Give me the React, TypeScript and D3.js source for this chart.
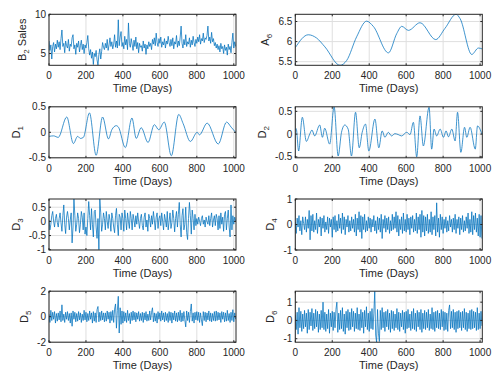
import React from 'react'
import * as d3 from 'd3'

// x axis
const xTicks = [0, 200, 400, 600, 800, 1000]
const xMax = 1012
const sampleStep = 5 // days between the noisy samples below

// B2 Sales, one value every 5 days
const b2Sales = [
  6.6, 5.4, 6.1, 4.3, 5.9, 6.4, 5.2, 6.2, 5.6, 6.7,
  5.8, 6.5, 5.5, 6.9, 8.0, 5.9, 6.3, 5.1, 6.6, 6.0,
  5.7, 6.8, 5.3, 6.2, 5.9, 7.0, 7.4, 5.6, 6.1, 4.9,
  6.3, 5.8, 6.6, 5.2, 6.0, 6.7, 5.5, 6.2, 5.0, 6.1,
  5.7, 6.4, 7.3, 5.6, 4.8, 5.5, 4.4, 5.2, 3.6, 5.0,
  4.6, 5.4, 4.2, 3.5, 4.9, 5.6, 4.3, 5.3, 6.4, 5.8,
  5.5, 6.3, 5.7, 6.8, 5.4, 6.1, 7.0, 5.9, 6.5, 5.6,
  6.2, 7.4, 5.8, 6.6, 5.7, 9.3, 6.0, 7.1, 7.8, 5.9,
  6.4, 5.6, 7.2, 6.1, 6.8, 5.5, 8.9, 6.3, 5.8, 6.9,
  6.2, 5.4, 6.7, 5.9, 7.1, 5.6, 6.4, 5.1, 6.3, 5.8,
  6.0, 5.3, 6.6, 5.7, 6.2, 4.9, 6.1, 5.6, 6.5, 5.9,
  6.3, 5.5, 6.8, 6.2, 7.0, 6.0, 7.6, 6.4, 5.9, 6.9,
  6.3, 7.1, 5.8, 6.5, 6.1, 6.9, 5.7, 6.6, 6.2, 7.2,
  6.4, 5.9, 6.8, 6.0, 7.0, 5.6, 6.5, 6.2, 7.3, 5.8,
  6.6, 6.0, 7.1, 8.5, 6.3, 5.7, 6.8, 6.1, 7.4, 5.9,
  6.5, 6.2, 7.0, 5.8, 6.7, 6.1, 7.2, 6.4, 5.9, 6.8,
  6.3, 7.1, 6.5, 7.4, 6.2, 6.9, 6.6, 7.6, 6.4, 7.0,
  6.8, 7.3, 8.5, 6.6, 7.1, 6.3, 7.7, 6.5, 6.9, 6.0,
  6.4, 5.7, 6.2, 5.5, 6.0, 5.2, 6.3, 5.6, 5.9, 5.0,
  6.1, 5.4, 5.8, 4.8, 6.2, 5.5, 5.9, 5.1, 6.4, 7.6,
  5.7, 6.5, 5.9,
]

// A6 approximation, read at turning points
const a6Days = [0, 70, 115, 160, 242, 278, 332, 386, 422, 504, 549, 576, 612, 675, 760, 810, 870, 892, 955, 991, 1010]
const a6Vals = [5.85, 6.17, 6.09, 5.87, 5.41, 5.53, 6.12, 6.51, 6.38, 5.72, 6.2, 6.38, 6.28, 6.47, 6.05, 6.33, 6.68, 6.57, 5.68, 5.84, 5.82]

// D1 detail
const d1Days = [0, 25, 50, 96, 132, 155, 170, 186, 219, 255, 290, 322, 340, 364, 376, 413, 449, 472, 499, 536, 570, 594, 624, 662, 702, 726, 765, 802, 814, 856, 916, 961, 986, 1010]
const d1Vals = [-0.08, -0.07, -0.1, 0.3, -0.22, -0.08, -0.12, -0.1, 0.38, -0.45, 0.3, -0.13, 0.05, 0.13, 0.1, -0.3, 0.28, -0.12, 0.09, -0.2, 0.15, 0.05, 0.2, -0.46, 0.35, 0.17, -0.18, 0, -0.05, 0.18, -0.23, 0.2, 0.1, 0]

// D2 detail
const d2Days = [0, 5, 18, 38, 60, 78, 90, 105, 132, 147, 159, 186, 210, 232, 250, 268, 286, 304, 326, 346, 362, 380, 398, 431, 452, 470, 485, 503, 521, 539, 557, 575, 603, 621, 639, 657, 675, 693, 724, 738, 751, 765, 784, 802, 816, 829, 847, 865, 878, 896, 916, 928, 946, 974, 986, 1010]
const d2Vals = [0.1, 0.12, -0.37, 0.37, -0.16, 0.0, 0.09, -0.04, 0.2, -0.07, 0.13, -0.22, 0.6, -0.48, 0.04, 0.2, 0.11, -0.48, 0.48, -0.3, 0.04, 0.22, -0.37, 0.33, -0.3, 0.07, -0.07, 0.04, -0.04, 0.01, -0.01, -0.04, 0.04, -0.01, 0.26, -0.5, 0.4, -0.26, 0.59, -0.33, 0.11, -0.04, 0.11, -0.07, 0.07, -0.06, 0.11, -0.15, 0.48, -0.4, 0.15, -0.07, 0.15, -0.33, 0.18, 0]

// D3..D6 detail, one value every 5 days
const d3Vals = [
  0.05, -0.3, -0.1, 0.2, 0.35, 0.0, -0.2, 0.1, 0.25, -0.05,
  -0.2, 0.1, 0.3, -0.05, -0.35, 0.2, 0.58, -0.1, -0.43, 0.15,
  0.35, 0.1, -0.3, 0.05, 0.3, -0.76, -0.2, 0.79, 0.2, -0.35,
  -0.1, 0.3, 0.1, -0.4, -0.1, 0.35, 0.15, -0.3, 0.3, -0.45,
  -0.2, -0.5, 0.1, 0.7, 0.2, -0.3, 0.45, -0.1, -0.55, 0.35,
  0.4, -0.2, -0.6, 0.1, -1.0, 0.79, 0.3, -0.35, -0.1, 0.3,
  0.1, -0.3, 0.35, 0.0, -0.25, 0.25, 0.05, -0.35, 0.3, 0.1,
  -0.2, -0.4, 0.2, 0.46, -0.1, -0.5, 0.25, 0.15, -0.3, 0.3,
  0.1, -0.35, 0.4, 0.1, -0.3, 0.3, 0.0, -0.25, 0.35, 0.1,
  -0.3, 0.25, 0.05, -0.2, 0.2, -0.1, 0.3, 0.0, -0.25, 0.1,
  0.25, -0.15, -0.3, 0.15, 0.3, -0.2, 0.05, -0.35, 0.25, 0.1,
  -0.2, 0.2, -0.1, 0.35, 0.05, -0.3, 0.15, 0.3, -0.25, 0.1,
  0.2, -0.15, 0.3, 0.0, -0.3, 0.25, 0.05, -0.2, 0.35, -0.3,
  0.0, 0.3, -0.25, -0.05, 0.4, 0.1, -0.37, 0.1, 0.35, -0.2,
  0.25, 0.67, -0.1, -0.55, 0.2, 0.45, -0.3, -0.1, 0.5, -0.4,
  -0.64, 0.1, 0.67, 0.2, -0.45, 0.4, 0.1, -0.3, 0.25, -0.15,
  0.1, -0.1, 0.15, 0.0, -0.15, 0.1, 0.2, -0.1, 0.05, -0.2,
  0.15, 0.0, -0.1, 0.2, -0.15, 0.1, 0.3, -0.2, 0.05, 0.2,
  -0.15, 0.25, 0.1, -0.3, 0.2, -0.25, 0.3, -0.1, 0.15, -0.35,
  0.25, 0.35, -0.3, 0.1, 0.4, -0.2, -0.55, 0.58, -0.3, 0.2,
  -0.1, 0.15, 0.0,
]

const d4Vals = [
  0.1, -0.35, 0.25, -0.1, 0.35, -0.25, 0.15, -0.4, 0.3, 0.05,
  -0.2, 0.3, -0.3, 0.2, -0.15, 0.55, -0.6, 0.35, -0.25, 0.4,
  -0.3, 0.15, -0.2, 0.45, -0.35, 0.2, -0.1, 0.3, -0.45, 0.25,
  -0.15, 0.35, -0.3, 0.1, -0.2, 0.3, -0.35, 0.25, -0.1, 0.2,
  -0.5, 0.3, -0.2, 0.35, -0.3, 0.15, -0.25, 0.4, -0.15, 0.25,
  -0.35, 0.45, -0.2, 0.3, -0.4, 0.2, -0.1, 0.35, -0.3, 0.15,
  -0.25, 0.3, -0.15, 0.2, -0.3, 0.4, -0.45, 0.25, -0.2, 0.5,
  -0.3, 0.35, -0.55, 0.3, -0.2, 0.4, -0.3, 0.15, -0.25, 0.3,
  -0.15, 0.25, -0.3, 0.2, -0.1, 0.35, -0.25, 0.15, -0.35, 0.3,
  -0.2, 0.25, -0.3, 0.4, -0.55, 0.2, -0.15, 0.35, -0.3, 0.25,
  -0.2, 0.3, -0.35, 0.15, -0.25, 0.4, -0.2, 0.3, -0.15, 0.5,
  -0.3, 0.35, -0.45, 0.2, -0.2, 0.3, -0.35, 0.45, -0.25, 0.2,
  -0.3, 0.4, -0.2, 0.25, -0.4, 0.3, -0.15, 0.35, -0.3, 0.2,
  -0.25, 0.45, -0.35, 0.3, -0.2, 0.4, -0.5, 0.55, -0.3, 0.35,
  -0.45, 0.3, -0.25, 0.4, -0.35, 0.2, -0.3, 0.5, -0.4, 0.3,
  -0.2, 0.35, -0.45, 0.85, -0.3, 0.25, -0.5, 0.4, -0.2, 0.3,
  -0.35, 0.2, -0.15, 0.3, -0.3, 0.15, -0.25, 0.35, -0.1, 0.2,
  -0.3, 0.25, -0.2, 0.4, -0.35, 0.2, -0.15, 0.3, -0.4, 0.25,
  -0.2, 0.35, -0.3, 0.15, -0.25, 0.3, -0.15, 0.45, -0.35, 0.2,
  -0.3, 0.5, -0.4, 0.35, -0.2, 0.45, -0.3, 0.25, -0.45, 0.4,
  -0.5, 0.35, -0.55,
]

const d5Vals = [
  0.2, -0.45, 0.5, -0.3, 0.35, -0.2, 0.4, -0.5, 0.25, -0.35,
  0.3, -0.25, 0.45, -0.4, 0.93, -0.3, 0.2, -0.45, 0.35, -0.2,
  0.4, -0.3, 0.25, -0.5, 0.3, -0.75, 0.45, -0.2, 0.35, -0.4,
  0.25, -0.35, 0.4, -0.25, 0.3, -0.45, 0.2, -0.3, 0.5, -0.25,
  0.35, -0.4, 0.25, -0.3, 0.45, -0.2, 0.3, -0.5, 0.4, -0.35,
  0.3, -0.45, 0.55, 0.8, -0.4, 0.35, -0.3, 0.45, -0.25, 0.3,
  -0.4, 0.3, -0.35, 0.45, -0.2, 0.35, -0.5, 0.4, -0.3, 0.5,
  -0.45, 0.6, 1.0, -0.9, 0.5, 1.6, -1.28, 0.7, -0.6, 0.45,
  -0.5, 0.4, -0.35, 0.3, -0.45, 0.5, -0.3, 0.25, -0.55, 0.35,
  -0.3, 0.45, -0.25, 0.35, -0.4, 0.3, -0.2, 0.4, -0.35, 0.25,
  -0.3, 0.35, -0.45, 0.3, -0.25, 0.4, -0.35, 0.2, -0.3, 0.45,
  -0.25, 0.35, 0.7, -0.4, 0.3, -0.35, 0.25, -0.5, 0.4, -0.2,
  0.3, -0.35, 0.45, -0.25, 0.3, -0.4, 0.35, -0.3, 0.25, -0.45,
  0.4, -0.3, 0.35, -0.5, 0.3, -0.25, 0.45, -0.35, 0.3, -0.4,
  0.35, -0.3, 0.5, -0.4, 0.3, -0.35, 0.4, -0.25, -0.8, 0.45,
  -0.3, 0.35, -0.45, 0.4, 1.0, -0.35, 0.3, -0.5, 0.35, -0.25,
  0.4, -0.3, 0.35, -0.45, 0.3, -0.25, -0.7, 0.4, -0.3, 0.35,
  -0.4, 0.3, -0.25, 0.45, -0.35, 0.3, -0.4, 0.25, -0.3, 0.4,
  -0.35, 0.45, -0.3, 0.35, -0.25, 0.3, -0.45, 0.4, -0.2, 0.35,
  -0.4, 0.3, -0.35, 0.5, -0.3, 0.25, -0.45, 0.35, -0.3, 0.55,
  -0.4, 0.3, -0.2,
]

const d6Vals = [
  0.3, -0.5, 0.45, -0.75, 0.7, -0.4, 0.5, -0.6, 0.35, -0.45,
  0.55, -0.35, 0.4, -0.7, 0.6, -0.5, 0.45, -0.3, 0.65, -0.55,
  0.4, -0.45, 0.6, -0.35, 0.5, -0.65, 0.35, -0.5, 0.55, -0.4,
  1.0, -0.5, 0.45, -0.6, 0.35, -0.45, 0.6, -0.7, 0.4, -0.35,
  0.5, -0.55, 0.45, -0.4, 0.6, 1.0, -0.65, 0.4, -0.5, 0.55,
  -0.45, 0.7, -0.6, 0.35, -0.75, 0.5, -0.4, 0.6, -0.55, 0.45,
  -0.5, 0.65, -0.35, 0.5, -0.6, 0.4, -0.45, 0.7, -0.5, 0.35,
  -0.55, 0.6, -0.4, 0.45, -0.7, 0.55, -0.35, 0.75, -0.5, 0.4,
  -0.6, 0.5, -0.45, 0.65, -0.5, 0.4, 1.6, -0.8, -1.19, 0.6,
  -0.7, -1.15, 0.55, -0.5, 0.7, -0.4, 0.45, -0.6, 0.5, -0.35,
  0.6, -0.5, 0.4, -0.65, 0.55, -0.45, 0.5, -0.55, 0.35, -0.4,
  0.65, -0.5, 0.45, -0.6, 0.4, -0.35, 0.55, -0.5, 0.45, -0.7,
  0.5, -0.45, 0.6, -0.4, 0.35, -0.55, 0.5, -0.45, 0.65, -0.5,
  0.4, -0.6, 0.55, -0.35, 0.45, -0.5, 0.6, -0.65, 0.4, -0.45,
  0.55, -0.5, 0.45, -0.4, 0.6, -0.55, 0.35, -0.45, 0.7, -0.5,
  0.45, -0.6, 0.5, -0.4, 0.55, -0.45, 0.4, -0.5, 0.6, -0.35,
  0.5, -0.55, 0.45, -0.5, 0.4, -0.6, 0.55, 0.85, -0.45, 0.5,
  -0.4, 0.6, -0.5, 0.45, -0.65, 0.5, -0.45, 0.55, -0.4, 0.45,
  -0.55, 0.5, -0.4, 0.65, -0.5, 0.45, -0.6, 0.4, -0.45, 0.55,
  -0.5, 0.6, -0.45, 0.5, -0.4, 0.45, -0.55, 0.7, -0.5, 0.4,
  -0.45, 0.5, -0.3,
]

const sampleDays = d3.range(b2Sales.length).map(i => i * sampleStep)

type PanelDef = {
  label: string
  sub: string
  suffix?: string
  days: number[]
  vals: number[]
  domain: [number, number]
  ticks: number[]
  smooth?: boolean
}

const panels: PanelDef[] = [
  { label: 'B', sub: '2', suffix: ' Sales', days: sampleDays, vals: b2Sales, domain: [3.5, 10], ticks: [5, 10] },
  { label: 'A', sub: '6', days: a6Days, vals: a6Vals, domain: [5.41, 6.68], ticks: [5.5, 6, 6.5], smooth: true },
  { label: 'D', sub: '1', days: d1Days, vals: d1Vals, domain: [-0.5, 0.5], ticks: [-0.5, 0, 0.5], smooth: true },
  { label: 'D', sub: '2', days: d2Days, vals: d2Vals, domain: [-0.52, 0.6], ticks: [-0.5, 0, 0.5], smooth: true },
  { label: 'D', sub: '3', days: sampleDays, vals: d3Vals, domain: [-1.01, 0.79], ticks: [-1, -0.5, 0, 0.5] },
  { label: 'D', sub: '4', days: sampleDays, vals: d4Vals, domain: [-1, 1], ticks: [-1, 0, 1] },
  { label: 'D', sub: '5', days: sampleDays, vals: d5Vals, domain: [-2, 2], ticks: [-2, 0, 2] },
  { label: 'D', sub: '6', days: sampleDays, vals: d6Vals, domain: [-1.19, 1.6], ticks: [-1, 0, 1] },
]

const W = 504
const H = 383
const colLeft = [49, 295.3]
const rowTop = [14.3, 106.8, 199, 291.2]
const pw = 187
const ph = 51
const font = '"Liberation Sans", Arial, Helvetica, sans-serif'
const ink = '#262626'
const lineColor = '#0072BD'
const tickFont = 10
const labelFont = 11

let ctx: CanvasRenderingContext2D | null = null
function textWidth(s: string) {
  if (!ctx) {
    ctx = document.createElement('canvas').getContext('2d')
    if (ctx) ctx.font = `${tickFont}px ${font}`
  }
  return ctx ? ctx.measureText(s).width : s.length * 5.5
}

function Panel({ p, idx }: { p: PanelDef; idx: number }) {
  const left = colLeft[idx % 2]
  const top = rowTop[Math.floor(idx / 2)]
  const x = d3.scaleLinear().domain([0, xMax]).range([left, left + pw])
  const y = d3.scaleLinear().domain(p.domain).range([top + ph, top])
  const line = d3
    .line<number>()
    .x((_, i) => x(p.days[i]))
    .y(d => y(d))
    .curve(p.smooth ? d3.curveMonotoneX : d3.curveLinear)
  const clipId = `clip${idx}`
  const maxW = d3.max(p.ticks, t => textWidth(String(t))) || 0
  const labelX = left - 3 - maxW - 9
  const cy = top + ph / 2

  return (
    <g>
      <defs>
        <clipPath id={clipId}>
          <rect x={left} y={top} width={pw} height={ph} />
        </clipPath>
      </defs>
      <rect x={left} y={top} width={pw} height={ph} fill="#fff" />
      {xTicks.map(t => (
        <line key={'gx' + t} x1={x(t)} x2={x(t)} y1={top} y2={top + ph} stroke="#dfdfdf" strokeWidth={1} />
      ))}
      {p.ticks.map(t => (
        <line key={'gy' + t} x1={left} x2={left + pw} y1={y(t)} y2={y(t)} stroke="#dfdfdf" strokeWidth={1} />
      ))}
      <path d={line(p.vals) || ''} fill="none" stroke={lineColor} strokeWidth={0.75} clipPath={`url(#${clipId})`} />
      <rect x={left} y={top} width={pw} height={ph} fill="none" stroke={ink} strokeWidth={1} />
      {xTicks.map(t => (
        <g key={'tx' + t}>
          <line x1={x(t)} x2={x(t)} y1={top + ph} y2={top + ph - 2} stroke={ink} />
          <line x1={x(t)} x2={x(t)} y1={top} y2={top + 2} stroke={ink} />
          <text x={x(t)} y={top + ph + 14} textAnchor="middle" fontSize={tickFont} fill={ink} fontFamily={font}>
            {t}
          </text>
        </g>
      ))}
      {p.ticks.map(t => (
        <g key={'ty' + t}>
          <line x1={left} x2={left + 2} y1={y(t)} y2={y(t)} stroke={ink} />
          <line x1={left + pw} x2={left + pw - 2} y1={y(t)} y2={y(t)} stroke={ink} />
          <text x={left - 3} y={y(t)} dy="0.35em" textAnchor="end" fontSize={tickFont} fill={ink} fontFamily={font}>
            {t}
          </text>
        </g>
      ))}
      <text x={left + pw / 2} y={top + ph + 27} textAnchor="middle" fontSize={labelFont} fill={ink} fontFamily={font}>
        Time (Days)
      </text>
      <text
        transform={`translate(${labelX},${cy}) rotate(-90)`}
        textAnchor="middle"
        fontSize={labelFont}
        fill={ink}
        fontFamily={font}
      >
        {p.label}
        <tspan fontSize={8} dy={3}>{p.sub}</tspan>
        {p.suffix ? <tspan dy={-3}>{p.suffix}</tspan> : null}
      </text>
    </g>
  )
}

export default function App() {
  return (
    <svg width={W} height={H} style={{ position: 'fixed', left: 0, top: 0, background: '#fff' }}>
      <rect width={W} height={H} fill="#fff" />
      {panels.map((p, i) => (
        <Panel key={i} p={p} idx={i} />
      ))}
    </svg>
  )
}
